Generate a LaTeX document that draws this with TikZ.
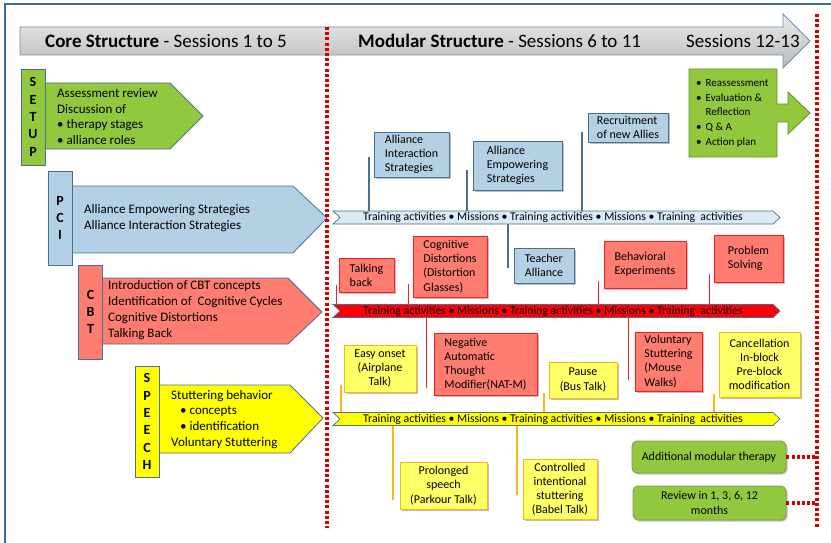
\documentclass[tikz,border=0pt]{standalone}
\usepackage{fontspec}
\setmainfont{Carlito}
\usetikzlibrary{shadows}

\definecolor{framecol}{RGB}{60,110,152}
\definecolor{edgecol}{RGB}{72,112,150}
\definecolor{setupgreen}{RGB}{146,200,62}
\definecolor{pciblue}{RGB}{180,208,228}
\definecolor{cbtred}{RGB}{255,124,112}
\definecolor{speechyel}{RGB}{255,255,0}
\definecolor{bandblue}{RGB}{220,234,244}
\definecolor{redline}{RGB}{250,30,30}
\definecolor{boxyel}{RGB}{255,255,102}
\definecolor{yelline}{RGB}{245,185,20}
\definecolor{sessred}{RGB}{210,0,0}
\definecolor{modline}{RGB}{118,160,82}

\tikzset{
  frameline/.style={draw=framecol,line width=1.2pt},
  sessline/.style={draw=sessred,line width=3.4pt,dash pattern=on 3pt off 2.2pt},
  stage/.style={draw=edgecol,line width=0.8pt},
  tab/.style={draw=edgecol,line width=0.8pt,minimum width=24pt,inner sep=0pt,align=center,
    font=\fontsize{14}{17.3}\selectfont\bfseries},
  stagetext/.style={anchor=west,align=left,inner sep=0pt,font=\fontsize{13}{15.8}\selectfont},
  band/.style={draw=edgecol,line width=0.7pt},
  bandtext/.style={inner sep=0pt,minimum height=13pt,font=\fontsize{11.8}{13}\selectfont},
  box/.style={line width=0.9pt,inner sep=0pt,font=\fontsize{12}{14.2}\selectfont,
    drop shadow={shadow xshift=1.5pt,shadow yshift=-1.5pt,fill=black,opacity=0.25}},
  bluebox/.style={box,draw=edgecol,fill=pciblue,align=left},
  redbox/.style={box,draw=redline,fill=cbtred,align=left},
  yelbox/.style={box,draw=yelline,fill=boxyel,align=center},
  modbox/.style={box,draw=modline,fill=setupgreen,rounded corners=5pt,align=center},
  blueconn/.style={draw=edgecol,line width=1.1pt},
  redconn/.style={draw=redline,line width=0.9pt},
  yelconn/.style={draw=yelline,line width=1.1pt},
}

\begin{document}
\begin{tikzpicture}[x=1pt,y=-1pt]
\useasboundingbox (0,0) rectangle (831,543);
\draw[frameline] (5,543) -- (5,4) -- (831,4);

% sessions arrow
\draw[draw=edgecol!80,line width=0.8pt,top color=gray!15,bottom color=gray!55]
  (20,27) -- (783,27) -- (783,14) -- (810,41) -- (783,68) -- (783,55) -- (20,55) -- cycle;
\node[anchor=west,inner sep=0pt,font=\fontsize{19}{21}\selectfont] (core) at (45,41)
  {\textbf{Core Structure} - Sessions 1 to 5};
\node[anchor=west,inner sep=0pt,font=\fontsize{19}{21}\selectfont] (modular) at (358,41)
  {\textbf{Modular Structure} - Sessions 6 to 11};
\node[anchor=west,inner sep=0pt,font=\fontsize{19}{21}\selectfont] (final) at (686,41)
  {Sessions 12-13};

% core stages
\draw[stage,fill=setupgreen] (45,83) -- (170,83) -- (203,116) -- (170,149) -- (45,149) -- cycle;
\node[tab,fill=setupgreen,minimum height=96pt] (setuptab) at (33,117) {S\\E\\T\\U\\P};
\node[stagetext] (setuptxt) at (57,116.5)
  {Assessment review\\Discussion of\\\textbullet\ therapy stages\\\textbullet\ alliance roles};

\draw[stage,fill=pciblue] (72,186) -- (293,186) -- (327,218) -- (293,253) -- (72,253) -- cycle;
\node[tab,fill=pciblue,minimum height=94pt] (pcitab) at (60,218) {P\\C\\I};
\node[stagetext] (pcitxt) at (84,218)
  {Alliance Empowering Strategies\\Alliance Interaction Strategies};

\draw[stage,fill=cbtred] (102,278) -- (288,278) -- (322,312) -- (288,344) -- (102,344) -- cycle;
\node[tab,fill=cbtred,minimum height=94pt] (cbttab) at (90.5,312) {C\\B\\T};
\node[stagetext] (cbttxt) at (108,310)
  {Introduction of CBT concepts\\Identification of~ Cognitive Cycles\\Cognitive Distortions\\Talking Back};

\draw[stage,fill=speechyel] (159,385) -- (290,385) -- (323,418) -- (290,453) -- (159,453) -- cycle;
\node[tab,fill=speechyel,minimum height=111pt] (speechtab) at (147,421.5) {S\\P\\E\\E\\C\\H};
\node[stagetext] (speechtxt) at (171,419.5)
  {Stuttering behavior\\\hspace{9pt}\textbullet\ concepts\\\hspace{9pt}\textbullet\ identification\\Voluntary Stuttering};

% modular bands
\foreach \y/\col/\nm in {217.5/bandblue/pciband, 311/red/cbtband, 419/speechyel/speechband} {
  \draw[band,fill=\col] (333,\y-6.5) -- (773,\y-6.5) -- (780,\y) -- (773,\y+6.5)
    -- (333,\y+6.5) -- (340,\y) -- cycle;
  \node[bandtext] (\nm) at (553,\y)
    {Training activities \textbullet\ Missions \textbullet\ Training activities \textbullet\ Missions \textbullet\ Training~ activities};
}

% PCI modules
\node[bluebox,minimum width=75pt,minimum height=45pt] (ais) at (411.5,154.5) {Alliance\\Interaction\\Strategies};
\node[bluebox,minimum width=89pt,minimum height=49pt] (aes) at (517.5,165.5) {Alliance\\Empowering\\Strategies};
\node[bluebox,minimum width=80pt,minimum height=29pt] (rna) at (628,127.5) {Recruitment\\of new Allies};
\node[bluebox,minimum width=60pt,minimum height=35pt] (ta) at (544,265.5) {Teacher\\Alliance};
\coordinate (ais-c) at (369,157);
\coordinate (aes-c) at (467,170);
\coordinate (rna-c) at (582,132);
\coordinate (ta-c) at (508,268);
\foreach \c in {ais-c,aes-c,rna-c} \draw[blueconn] (\c) -- (\c |- pciband.north);
\draw[blueconn] (ta-c |- pciband.south) -- (ta-c);

% CBT modules
\node[redbox,minimum width=55pt,minimum height=34pt] (tb) at (366.5,275) {Talking\\back};
\node[redbox,minimum width=74pt,minimum height=61pt] (cd) at (450,266.5) {Cognitive\\Distortions\\(Distortion\\Glasses)};
\node[redbox,minimum width=82pt,minimum height=47pt] (be) at (645,264.5) {Behavioral\\Experiments};
\node[redbox,minimum width=69pt,minimum height=47pt] (ps) at (748.5,258.5) {Problem\\Solving};
\node[redbox,minimum width=103pt,minimum height=62pt] (nat) at (485.5,364) {Negative\\Automatic\\Thought\\Modifier(NAT-M)};
\node[redbox,minimum width=67pt,minimum height=59pt] (vs) at (668.5,361.5) {Voluntary\\Stuttering\\(Mouse\\Walks)};
\coordinate (tb-c) at (336,285);
\coordinate (cd-c) at (408,284);
\coordinate (be-c) at (598,281);
\coordinate (ps-c) at (709,274);
\coordinate (nat-c) at (426,388);
\coordinate (vs-c) at (628,380);
\foreach \c in {tb-c,cd-c,be-c,ps-c} \draw[redconn] (\c) -- (\c |- cbtband.north);
\foreach \c in {nat-c,vs-c} \draw[redconn] (\c |- cbtband.south) -- (\c);

% speech modules
\node[yelbox,minimum width=72pt,minimum height=47pt] (eo) at (380,368.5) {Easy onset\\(Airplane\\Talk)};
\node[yelbox,minimum width=68pt,minimum height=36pt] (pa) at (583,380) {Pause\\(Bus Talk)};
\node[yelbox,minimum width=81pt,minimum height=65pt] (ca) at (759.5,364.5) {Cancellation\\In-block\\Pre-block\\modification};
\node[yelbox,minimum width=87pt,minimum height=47pt] (pr) at (443.5,485.5) {Prolonged\\speech\\(Parkour Talk)};
\node[yelbox,minimum width=74pt,minimum height=60pt] (ci) at (560,489) {Controlled\\intentional\\stuttering\\(Babel Talk)};
\coordinate (eo-c) at (341,385);
\coordinate (pa-c) at (544,393);
\coordinate (ca-c) at (714,394);
\coordinate (pr-c) at (393,500);
\coordinate (ci-c) at (517,495);
\foreach \c in {eo-c,pa-c,ca-c} \draw[yelconn] (\c) -- (\c |- speechband.north);
\foreach \c in {pr-c,ci-c} \draw[yelconn] (\c |- speechband.south) -- (\c);

% sessions 12-13
\draw[stage,fill=setupgreen,draw=setupgreen!70!black] (689,69) -- (777,69) -- (777,104) -- (788,104) -- (788,92)
  -- (810,113) -- (788,134) -- (788,122) -- (777,122) -- (777,157) -- (689,157) -- cycle;
\node[anchor=west,inner sep=0pt,font=\fontsize{11}{14.7}\selectfont] (reass) at (696,113)
  {\begin{tabular}{@{}l@{\hspace{4pt}}l@{}}
   \textbullet & Reassessment\\
   \textbullet & Evaluation \&\\
               & Reflection\\
   \textbullet & Q \& A\\
   \textbullet & Action plan
   \end{tabular}};

\node[modbox,minimum width=154pt,minimum height=32pt] (amt) at (709,457) {Additional modular therapy};
\node[modbox,minimum width=153pt,minimum height=34pt] (rev) at (709.5,503) {Review in 1, 3, 6, 12\\months};
\coordinate (amt-c) at (817,457);
\coordinate (rev-c) at (817,503);
\draw[sessline] (amt) -- (amt-c);
\draw[sessline] (rev) -- (rev-c);

% session borders
\draw[sessline] (327,27) -- (327,528);
\draw[sessline] (817,14) -- (817,528);
\end{tikzpicture}
\end{document}
